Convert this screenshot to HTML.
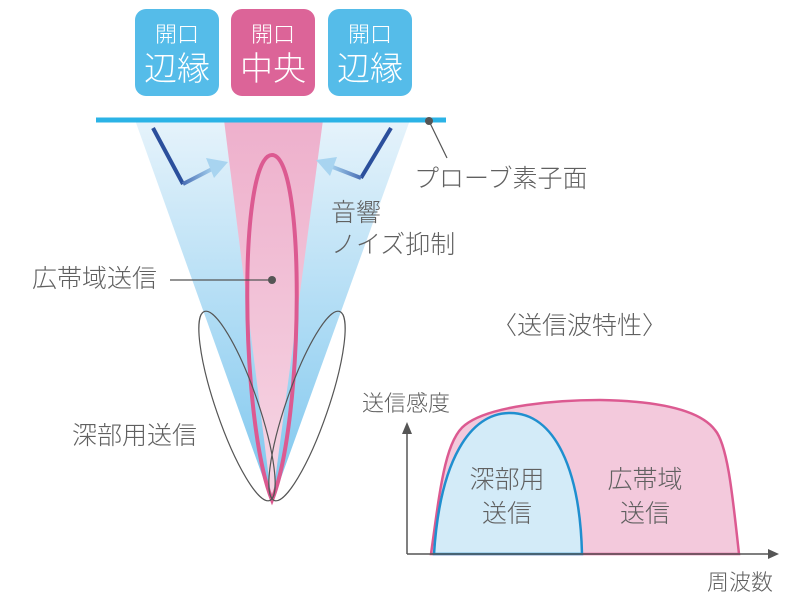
<!DOCTYPE html>
<html><head><meta charset="utf-8"><style>
body{margin:0;background:#fff;}
svg text{font-family:"Liberation Sans","Noto Sans CJK JP",sans-serif;font-weight:300;}
</style></head><body>
<svg width="800" height="600" viewBox="0 0 800 600" xmlns="http://www.w3.org/2000/svg">
<defs>
<linearGradient id="bl" x1="0" y1="0" x2="0" y2="1">
<stop offset="0" stop-color="#e6f3fb"/><stop offset="1" stop-color="#7cc6ee"/></linearGradient>
<linearGradient id="pk" x1="0" y1="0" x2="0" y2="1">
<stop offset="0" stop-color="#eeb0cc"/><stop offset="1" stop-color="#f6d6e4"/></linearGradient>
<linearGradient id="arL" x1="0" y1="0" x2="1" y2="0">
<stop offset="0" stop-color="#4a6fb5"/><stop offset="1" stop-color="#a8d4f0"/></linearGradient>
<linearGradient id="arR" x1="1" y1="0" x2="0" y2="0">
<stop offset="0" stop-color="#4a6fb5"/><stop offset="1" stop-color="#a8d4f0"/></linearGradient>
</defs>
<rect x="135" y="9" width="84" height="87" rx="11" fill="#55bce9"/>
<rect x="231" y="9" width="84" height="87" rx="11" fill="#dc6498"/>
<rect x="328" y="9" width="84" height="87" rx="11" fill="#55bce9"/>
<g fill="#fff" text-anchor="middle">
<text x="177" y="42" font-size="22">開口</text><text x="177" y="80" font-size="33">辺縁</text>
<text x="273" y="42" font-size="22">開口</text><text x="273" y="80" font-size="33">中央</text>
<text x="370" y="42" font-size="22">開口</text><text x="370" y="80" font-size="33">辺縁</text>
</g>
<polygon points="135,120 410,120 272,503" fill="url(#bl)"/>
<polygon points="224,120 323,120 272,503" fill="url(#pk)"/>
<path d="M272,155 C306,155 304,420 272,500 C240,420 238,155 272,155Z" fill="none" stroke="#dc5a91" stroke-width="4"/>
<g fill="none" stroke="#555" stroke-width="1.2">
<ellipse cx="0" cy="0" rx="21" ry="100" transform="translate(237,406) rotate(-19)"/>
<ellipse cx="0" cy="0" rx="21" ry="100" transform="translate(307,406) rotate(19)"/>
</g>
<line x1="96" y1="120" x2="446" y2="120" stroke="#2bb3e6" stroke-width="5"/>
<circle cx="429" cy="121" r="4" fill="#555"/>
<line x1="429" y1="121" x2="447" y2="158" stroke="#555" stroke-width="1.2"/>
<polyline points="153,128 183,184" fill="none" stroke="#2b4f9c" stroke-width="4"/>
<path d="M183,184 L214,168" stroke="url(#arL)" stroke-width="4" fill="none"/>
<polygon points="228,162 206,158 214,178" fill="#a8d4f0"/>
<polyline points="391,128 361,178" fill="none" stroke="#2b4f9c" stroke-width="4"/>
<path d="M361,178 L330,166" stroke="url(#arR)" stroke-width="4" fill="none"/>
<polygon points="316,160 337,157 330,176" fill="#a8d4f0"/>
<g fill="#606060" font-size="25">
<text x="414" y="187">プローブ素子面</text>
<text x="331" y="221">音響</text>
<text x="331" y="253">ノイズ抑制</text>
<text x="32" y="287">広帯域送信</text>
<text x="72" y="444">深部用送信</text>
<text x="492" y="334">〈送信波特性〉</text>
<text x="362" y="411" font-size="22">送信感度</text>
<text x="707" y="590" font-size="22">周波数</text>
</g>
<line x1="170" y1="280" x2="272" y2="280" stroke="#555" stroke-width="1.2"/>
<circle cx="272" cy="280" r="4" fill="#555"/>
<path d="M431,554 C440,490 445,440 465,425 C490,405 560,400 600,400 C660,401 700,410 715,430 C728,445 733,500 739,554Z" fill="#f3c9dc" stroke="#dc5a91" stroke-width="2.5"/>
<path d="M434,554 C440,460 470,413 510,413 C555,413 580,470 582,554Z" fill="#d3ebf8" stroke="#1f8fcf" stroke-width="2.5"/>
<line x1="407" y1="554" x2="770" y2="554" stroke="#555" stroke-width="1.5"/>
<polygon points="779,554 768,549 768,559" fill="#555"/>
<line x1="407" y1="554" x2="407" y2="432" stroke="#555" stroke-width="1.5"/>
<polygon points="407,422 402,434 412,434" fill="#555"/>
<g fill="#606060" font-size="25" text-anchor="middle">
<text x="507" y="488">深部用</text><text x="507" y="522">送信</text>
<text x="645" y="488">広帯域</text><text x="645" y="522">送信</text>
</g>
</svg>
</body></html>
